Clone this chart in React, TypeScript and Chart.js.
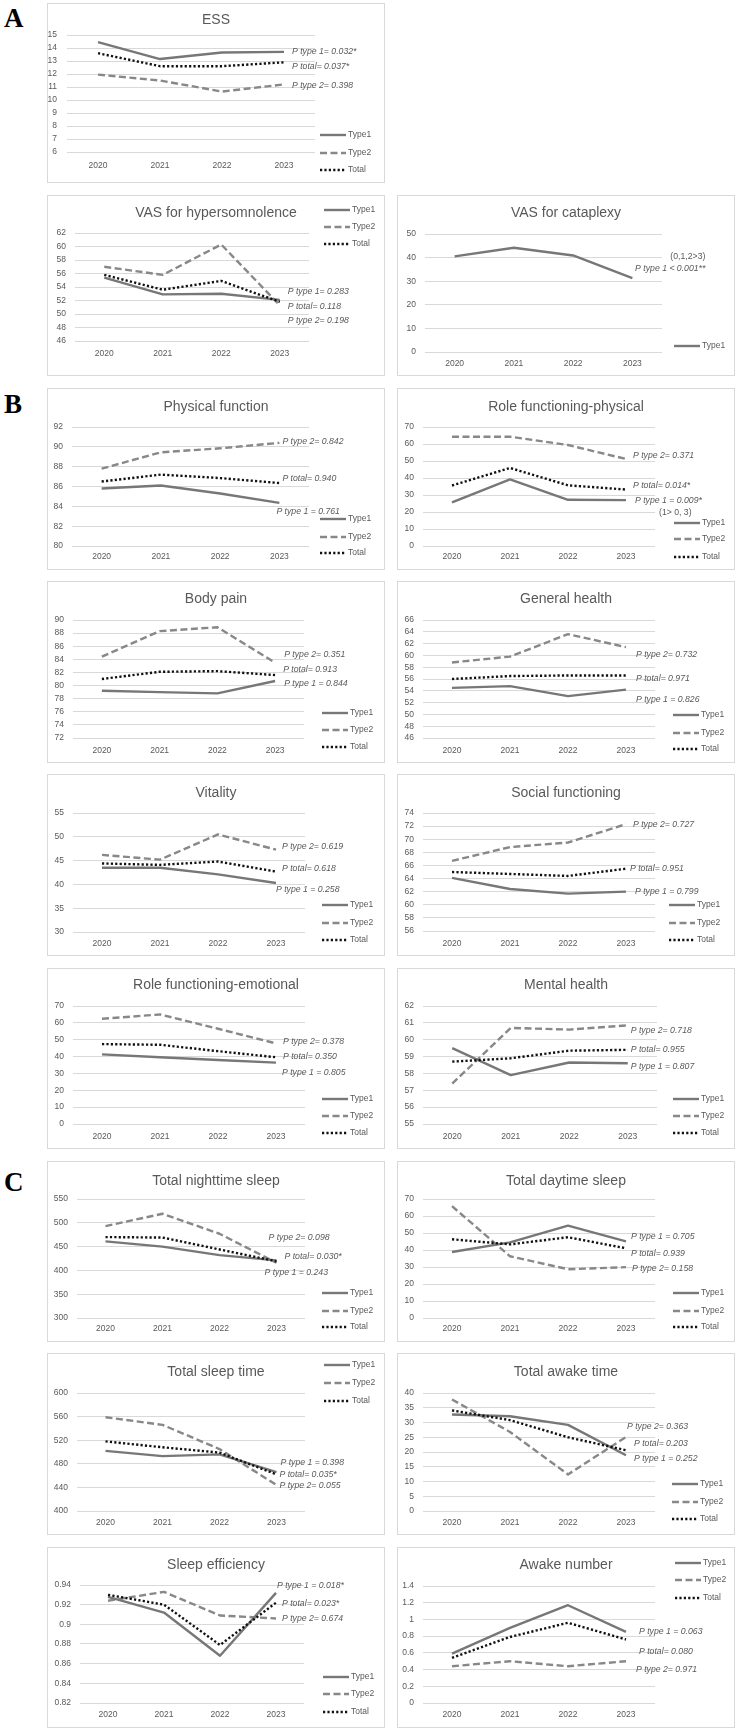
import React, { useEffect, useRef } from 'react';
import { Chart, registerables } from 'chart.js';

Chart.register(...registerables);

// ---------- categories ----------
const years = ['2020', '2021', '2022', '2023'];

// ---------- A ----------
const essType1 = [14.45, 13.15, 13.65, 13.7];
const essType2 = [11.95, 11.5, 10.65, 11.2];
const essTotal = [13.6, 12.6, 12.6, 12.9];
const essTicks = [6, 7, 8, 9, 10, 11, 12, 13, 14, 15];

const hyperType1 = [55.4, 52.9, 53.0, 52.1];
const hyperType2 = [57.0, 55.8, 60.3, 51.3];
const hyperTotal = [55.8, 53.6, 54.9, 51.8];
const hyperTicks = [46, 48, 50, 52, 54, 56, 58, 60, 62];

const catapType1 = [40.5, 44.2, 40.9, 31.3];
const catapTicks = [0, 10, 20, 30, 40, 50];

// ---------- B ----------
const pfType1 = [85.8, 86.1, 85.3, 84.35];
const pfType2 = [87.8, 89.45, 89.85, 90.4];
const pfTotal = [86.5, 87.2, 86.85, 86.35];
const pfTicks = [80, 82, 84, 86, 88, 90, 92];

const rpType1 = [25.6, 39.2, 27.2, 27.0];
const rpType2 = [64.3, 64.3, 59.4, 51.2];
const rpTotal = [35.6, 45.9, 35.7, 33.2];
const rpTicks = [0, 10, 20, 30, 40, 50, 60, 70];

const bpType1 = [79.2, 79.0, 78.8, 80.7];
const bpType2 = [84.4, 88.3, 88.9, 83.5];
const bpTotal = [81.0, 82.1, 82.2, 81.6];
const bpTicks = [72, 74, 76, 78, 80, 82, 84, 86, 88, 90];

const ghType1 = [54.5, 54.8, 53.1, 54.2];
const ghType2 = [58.8, 59.8, 63.6, 61.4];
const ghTotal = [56.0, 56.5, 56.6, 56.6];
const ghTicks = [46, 48, 50, 52, 54, 56, 58, 60, 62, 64, 66];

const vtType1 = [43.5, 43.5, 42.1, 40.3];
const vtType2 = [46.2, 45.2, 50.5, 47.3];
const vtTotal = [44.4, 44.1, 44.8, 42.7];
const vtTicks = [30, 35, 40, 45, 50, 55];

const sfType1 = [64.1, 62.4, 61.7, 62.0];
const sfType2 = [66.7, 68.8, 69.5, 72.3];
const sfTotal = [65.0, 64.7, 64.4, 65.5];
const sfTicks = [56, 58, 60, 62, 64, 66, 68, 70, 72, 74];

const reType1 = [41.3, 39.6, 38.0, 36.4];
const reType2 = [62.4, 65.0, 56.5, 47.8];
const reTotal = [47.4, 47.0, 43.2, 39.6];
const reTicks = [0, 10, 20, 30, 40, 50, 60, 70];

const mhType1 = [59.5, 57.9, 58.65, 58.6];
const mhType2 = [57.4, 60.7, 60.6, 60.85];
const mhTotal = [58.7, 58.9, 59.35, 59.4];
const mhTicks = [55, 56, 57, 58, 59, 60, 61, 62];

// ---------- C ----------
const nsType1 = [461, 450, 432, 421];
const nsType2 = [493, 519, 477, 416];
const nsTotal = [470, 469, 444, 419];
const nsTicks = [300, 350, 400, 450, 500, 550];

const dsType1 = [38.8, 44.5, 54.3, 45.1];
const dsType2 = [65.8, 36.3, 28.7, 29.9];
const dsTotal = [46.3, 43.3, 47.5, 41.0];
const dsTicks = [0, 10, 20, 30, 40, 50, 60, 70];

const tstType1 = [502, 493, 496, 466];
const tstType2 = [559, 546, 505, 444];
const tstTotal = [518, 508, 499, 462];
const tstTicks = [400, 440, 480, 520, 560, 600];

const awType1 = [32.7, 32.1, 29.2, 18.9];
const awType2 = [37.8, 26.8, 12.4, 25.1];
const awTotal = [34.1, 30.8, 25.0, 20.6];
const awTicks = [0, 5, 10, 15, 20, 25, 30, 35, 40];

const seType1 = [0.928, 0.912, 0.868, 0.932];
const seType2 = [0.924, 0.933, 0.909, 0.906];
const seTotal = [0.930, 0.920, 0.879, 0.922];
const seTicks = [0.82, 0.84, 0.86, 0.88, 0.9, 0.92, 0.94];

const anType1 = [0.59, 0.90, 1.17, 0.85];
const anType2 = [0.44, 0.50, 0.44, 0.50];
const anTotal = [0.54, 0.79, 0.96, 0.76];
const anTicks = [0, 0.2, 0.4, 0.6, 0.8, 1, 1.2, 1.4];

// ---------- styles ----------
const FONT = '"Liberation Sans", Arial, sans-serif';
const TEXT = '#595959';
const GRID = '#d9d9d9';
const SMALL = 8.5;

type Key = 'type1' | 'type2' | 'total';
const STYLE: Record<Key, { label: string; color: string; dash: number[]; width: number; order: number }> = {
  type1: { label: 'Type1', color: '#777777', dash: [], width: 2.4, order: 1 },
  type2: { label: 'Type2', color: '#888888', dash: [7, 3.5], width: 2.4, order: 2 },
  total: { label: 'Total', color: '#111111', dash: [2.2, 2.2], width: 2.4, order: 0 },
};

type Note = { text: string; at: number; dx: number; align?: CanvasTextAlign; upright?: boolean };
type Panel = {
  title: string;
  col: 'L' | 'R';
  boxTop: number;
  boxBottom: number;
  plot: [number, number, number, number];
  titleY: number;
  xLabY: number;
  ticks: number[];
  yPad?: number;
  series: { key: Key; data: number[] }[];
  legendX: number;
  legendY: number[];
  notes: Note[];
};

const three = (a: number[], b: number[], c: number[]) => [
  { key: 'type1' as Key, data: a },
  { key: 'type2' as Key, data: b },
  { key: 'total' as Key, data: c },
];

const panels: Panel[] = [
  {
    title: 'ESS', col: 'L', boxTop: 3, boxBottom: 183, plot: [67, 35, 315, 152], titleY: 20, xLabY: 166,
    ticks: essTicks, yPad: 10, series: three(essType1, essType2, essTotal), legendX: 320, legendY: [135, 153, 170],
    notes: [
      { text: 'P type 1= 0.032*', at: 13.7, dx: 8 },
      { text: 'P total= 0.037*', at: 12.6, dx: 8 },
      { text: 'P type 2= 0.398', at: 11.1, dx: 8 },
    ],
  },
  {
    title: 'VAS for hypersomnolence', col: 'L', boxTop: 195, boxBottom: 376, plot: [75, 233, 309, 341], titleY: 213, xLabY: 354,
    ticks: hyperTicks, series: three(hyperType1, hyperType2, hyperTotal), legendX: 324, legendY: [210, 227, 244],
    notes: [
      { text: 'P type 1= 0.283', at: 53.26, dx: 8 },
      { text: 'P total= 0.118', at: 51.04, dx: 8 },
      { text: 'P type 2= 0.198', at: 48.96, dx: 8 },
    ],
  },
  {
    title: 'VAS for cataplexy', col: 'R', boxTop: 195, boxBottom: 376, plot: [425, 234, 662, 352], titleY: 213, xLabY: 364,
    ticks: catapTicks, series: [{ key: 'type1', data: catapType1 }], legendX: 674, legendY: [346],
    notes: [
      { text: '(0,1,2>3)', at: 40.25, dx: 73, align: 'right', upright: true },
      { text: 'P type 1 < 0.001**', at: 35.2, dx: 73, align: 'right' },
    ],
  },
  {
    title: 'Physical function', col: 'L', boxTop: 388, boxBottom: 570, plot: [72, 427, 309, 546], titleY: 407, xLabY: 557,
    ticks: pfTicks, series: three(pfType1, pfType2, pfTotal), legendX: 320, legendY: [519, 537, 553],
    notes: [
      { text: 'P type 2= 0.842', at: 90.49, dx: 3 },
      { text: 'P total= 0.940', at: 86.76, dx: 3 },
      { text: 'P type 1 = 0.761', at: 83.43, dx: -3 },
    ],
  },
  {
    title: 'Role functioning-physical', col: 'R', boxTop: 388, boxBottom: 570, plot: [423, 427, 655, 546], titleY: 407, xLabY: 557,
    ticks: rpTicks, series: three(rpType1, rpType2, rpTotal), legendX: 674, legendY: [523, 539, 557],
    notes: [
      { text: 'P type 2= 0.371', at: 52.9, dx: 7 },
      { text: 'P total= 0.014*', at: 35.3, dx: 7 },
      { text: 'P type 1 = 0.009*', at: 26.5, dx: 9 },
      { text: '(1> 0, 3)', at: 19.4, dx: 33, upright: true },
    ],
  },
  {
    title: 'Body pain', col: 'L', boxTop: 581, boxBottom: 763, plot: [73, 620, 304, 738], titleY: 599, xLabY: 751,
    ticks: bpTicks, series: three(bpType1, bpType2, bpTotal), legendX: 322, legendY: [713, 730, 747],
    notes: [
      { text: 'P type 2= 0.351', at: 84.67, dx: 9 },
      { text: 'P total= 0.913', at: 82.38, dx: 8 },
      { text: 'P type 1 = 0.844', at: 80.24, dx: 9 },
    ],
  },
  {
    title: 'General health', col: 'R', boxTop: 581, boxBottom: 763, plot: [423, 620, 655, 738], titleY: 599, xLabY: 751,
    ticks: ghTicks, series: three(ghType1, ghType2, ghTotal), legendX: 673, legendY: [715, 733, 749],
    notes: [
      { text: 'P type 2= 0.732', at: 60.2, dx: 10 },
      { text: 'P total= 0.971', at: 56.1, dx: 10 },
      { text: 'P type 1 = 0.826', at: 52.5, dx: 10 },
    ],
  },
  {
    title: 'Vitality', col: 'L', boxTop: 774, boxBottom: 956, plot: [73, 813, 305, 932], titleY: 793, xLabY: 944,
    ticks: vtTicks, series: three(vtType1, vtType2, vtTotal), legendX: 322, legendY: [905, 923, 940],
    notes: [
      { text: 'P type 2= 0.619', at: 47.86, dx: 6 },
      { text: 'P total= 0.618', at: 43.24, dx: 6 },
      { text: 'P type 1 = 0.258', at: 38.82, dx: 0 },
    ],
  },
  {
    title: 'Social functioning', col: 'R', boxTop: 774, boxBottom: 956, plot: [423, 813, 655, 931], titleY: 793, xLabY: 944,
    ticks: sfTicks, series: three(sfType1, sfType2, sfTotal), legendX: 669, legendY: [905, 923, 940],
    notes: [
      { text: 'P type 2= 0.727', at: 72.3, dx: 7 },
      { text: 'P total= 0.951', at: 65.5, dx: 4 },
      { text: 'P type 1 = 0.799', at: 61.95, dx: 9 },
    ],
  },
  {
    title: 'Role functioning-emotional', col: 'L', boxTop: 968, boxBottom: 1149, plot: [73, 1006, 305, 1124], titleY: 985, xLabY: 1137,
    ticks: reTicks, series: three(reType1, reType2, reTotal), legendX: 322, legendY: [1099, 1116, 1133],
    notes: [
      { text: 'P type 2= 0.378', at: 48.65, dx: 7 },
      { text: 'P total= 0.350', at: 39.75, dx: 7 },
      { text: 'P type 1 = 0.805', at: 30.26, dx: 6 },
    ],
  },
  {
    title: 'Mental health', col: 'R', boxTop: 968, boxBottom: 1149, plot: [423, 1006, 657, 1124], titleY: 985, xLabY: 1137,
    ticks: mhTicks, series: three(mhType1, mhType2, mhTotal), legendX: 673, legendY: [1099, 1116, 1133],
    notes: [
      { text: 'P type 2= 0.718', at: 60.52, dx: 3 },
      { text: 'P total= 0.955', at: 59.39, dx: 3 },
      { text: 'P type 1 = 0.807', at: 58.38, dx: 3 },
    ],
  },
  {
    title: 'Total nighttime sleep', col: 'L', boxTop: 1161, boxBottom: 1342, plot: [77, 1199, 305, 1318], titleY: 1181, xLabY: 1329,
    ticks: nsTicks, series: three(nsType1, nsType2, nsTotal), legendX: 322, legendY: [1293, 1311, 1327],
    notes: [
      { text: 'P type 2= 0.098', at: 468, dx: -8 },
      { text: 'P total= 0.030*', at: 428, dx: 8 },
      { text: 'P type 1 = 0.243', at: 394.6, dx: -12 },
    ],
  },
  {
    title: 'Total daytime sleep', col: 'R', boxTop: 1161, boxBottom: 1342, plot: [423, 1199, 655, 1318], titleY: 1181, xLabY: 1329,
    ticks: dsTicks, series: three(dsType1, dsType2, dsTotal), legendX: 673, legendY: [1293, 1311, 1327],
    notes: [
      { text: 'P type 1 = 0.705', at: 47.6, dx: 5 },
      { text: 'P total= 0.939', at: 37.6, dx: 5 },
      { text: 'P type 2= 0.158', at: 28.8, dx: 6 },
    ],
  },
  {
    title: 'Total sleep time', col: 'L', boxTop: 1353, boxBottom: 1535, plot: [77, 1393, 305, 1511], titleY: 1372, xLabY: 1523,
    ticks: tstTicks, series: three(tstType1, tstType2, tstTotal), legendX: 324, legendY: [1365, 1383, 1401],
    notes: [
      { text: 'P type 1 = 0.398', at: 481.4, dx: 4 },
      { text: 'P total= 0.035*', at: 461, dx: 3 },
      { text: 'P type 2= 0.055', at: 442.4, dx: 3 },
    ],
  },
  {
    title: 'Total awake time', col: 'R', boxTop: 1353, boxBottom: 1535, plot: [423, 1393, 655, 1511], titleY: 1372, xLabY: 1523,
    ticks: awTicks, series: three(awType1, awType2, awTotal), legendX: 672, legendY: [1484, 1502, 1519],
    notes: [
      { text: 'P type 2= 0.363', at: 28.5, dx: 1 },
      { text: 'P total= 0.203', at: 22.7, dx: 8 },
      { text: 'P type 1 = 0.252', at: 17.6, dx: 8 },
    ],
  },
  {
    title: 'Sleep efficiency', col: 'L', boxTop: 1547, boxBottom: 1728, plot: [80, 1585, 304, 1703], titleY: 1565, xLabY: 1715,
    ticks: seTicks, series: three(seType1, seType2, seTotal), legendX: 323, legendY: [1677, 1694, 1712],
    notes: [
      { text: 'P type 1 = 0.018*', at: 0.939, dx: 1 },
      { text: 'P total= 0.023*', at: 0.9207, dx: 6 },
      { text: 'P type 2= 0.674', at: 0.9054, dx: 6 },
    ],
  },
  {
    title: 'Awake number', col: 'R', boxTop: 1547, boxBottom: 1728, plot: [423, 1586, 655, 1703], titleY: 1565, xLabY: 1715,
    ticks: anTicks, series: three(anType1, anType2, anTotal), legendX: 675, legendY: [1563, 1580, 1598],
    notes: [
      { text: 'P type 1 = 0.063', at: 0.85, dx: 13 },
      { text: 'P total= 0.080', at: 0.61, dx: 13 },
      { text: 'P type 2= 0.971', at: 0.395, dx: 10 },
    ],
  },
];

const COL_X = { L: 47, R: 397 };
const BOX_W = 338;

function fmt(v: number) {
  return String(Number(v.toFixed(3)));
}

function PanelChart({ p }: { p: Panel }) {
  const ref = useRef<HTMLCanvasElement>(null);
  const boxL = COL_X[p.col];
  const H = p.boxBottom - p.boxTop;

  useEffect(() => {
    const canvas = ref.current;
    if (!canvas) return;
    const relL = p.plot[0] - boxL;
    const relR = p.plot[2] - boxL;
    const relT = p.plot[1] - p.boxTop;
    const relB = p.plot[3] - p.boxTop;
    const YW = relL;
    const XH = 20;

    const deco = {
      id: 'deco',
      beforeDraw(chart: any) {
        const { ctx, width, height } = chart;
        ctx.save();
        ctx.fillStyle = '#ffffff';
        ctx.fillRect(0, 0, width, height);
        ctx.strokeStyle = GRID;
        ctx.lineWidth = 1;
        ctx.strokeRect(0.5, 0.5, width - 1, height - 1);
        ctx.restore();
      },
      afterDraw(chart: any) {
        const { ctx } = chart;
        ctx.save();
        ctx.fillStyle = TEXT;
        ctx.font = `14px ${FONT}`;
        ctx.textAlign = 'center';
        ctx.textBaseline = 'middle';
        ctx.fillText(p.title, chart.width / 2, p.titleY - p.boxTop);

        p.series.forEach((s, i) => {
          const st = STYLE[s.key];
          const y = p.legendY[i] - p.boxTop;
          const x0 = p.legendX - boxL;
          ctx.beginPath();
          ctx.setLineDash(st.dash);
          ctx.strokeStyle = st.color;
          ctx.lineWidth = st.width;
          ctx.moveTo(x0, y);
          ctx.lineTo(x0 + 26, y);
          ctx.stroke();
          ctx.setLineDash([]);
          ctx.font = `${SMALL}px ${FONT}`;
          ctx.textAlign = 'left';
          ctx.fillStyle = TEXT;
          ctx.fillText(st.label, x0 + 28, y);
        });

        const xs = chart.scales.x;
        const ys = chart.scales.y;
        const x3 = xs.getPixelForValue(3);
        p.notes.forEach((n) => {
          ctx.font = `${n.upright ? '' : 'italic '}${SMALL + 0.2}px ${FONT}`;
          ctx.textAlign = n.align || 'left';
          ctx.textBaseline = 'middle';
          ctx.fillStyle = TEXT;
          ctx.fillText(n.text, x3 + n.dx, ys.getPixelForValue(n.at));
        });
        ctx.restore();
      },
    };

    const chart = new Chart(canvas, {
      type: 'line',
      data: {
        labels: years,
        datasets: p.series.map((s) => ({
          label: STYLE[s.key].label,
          data: s.data,
          borderColor: STYLE[s.key].color,
          borderWidth: STYLE[s.key].width,
          borderDash: STYLE[s.key].dash,
          borderCapStyle: 'butt' as const,
          borderJoinStyle: 'round' as const,
          pointRadius: 0,
          pointHoverRadius: 0,
          tension: 0,
          fill: false,
          order: STYLE[s.key].order,
        })),
      },
      options: {
        responsive: false,
        animation: false,
        events: [],
        layout: {
          padding: { left: 0, right: BOX_W - relR, top: relT, bottom: H - relB - XH },
        },
        plugins: {
          legend: { display: false },
          title: { display: false },
          tooltip: { enabled: false },
        },
        scales: {
          x: {
            offset: true,
            grid: { display: false, drawTicks: false },
            border: { display: false },
            ticks: {
              color: TEXT,
              font: { family: FONT, size: SMALL },
              padding: p.xLabY - p.plot[3] - SMALL * 0.6,
              maxRotation: 0,
              autoSkip: false,
            },
            afterFit: (s: any) => {
              s.height = XH;
            },
          },
          y: {
            min: p.ticks[0],
            max: p.ticks[p.ticks.length - 1],
            grid: { color: GRID, lineWidth: 1, drawTicks: false },
            border: { display: false },
            ticks: {
              color: TEXT,
              font: { family: FONT, size: SMALL },
              padding: p.yPad ?? 9,
              autoSkip: false,
              callback: (v: any) => fmt(Number(v)),
            },
            afterBuildTicks: (s: any) => {
              s.ticks = p.ticks.map((v) => ({ value: v }));
            },
            afterFit: (s: any) => {
              s.width = YW;
            },
          },
        },
      },
      plugins: [deco],
    });
    return () => chart.destroy();
  }, []);

  return (
    <canvas
      ref={ref}
      width={BOX_W}
      height={H}
      style={{ position: 'absolute', left: boxL, top: p.boxTop, width: BOX_W, height: H }}
    />
  );
}

const letterStyle = (top: number): React.CSSProperties => ({
  position: 'absolute',
  left: 4,
  top,
  fontFamily: '"Liberation Serif", "Times New Roman", serif',
  fontWeight: 'bold',
  fontSize: 27,
  lineHeight: '27px',
  color: '#000',
});

export default function App() {
  return (
    <div style={{ position: 'absolute', left: 0, top: 0, width: 737, height: 1731, background: '#fff' }}>
      <div style={letterStyle(5)}>A</div>
      <div style={letterStyle(391)}>B</div>
      <div style={letterStyle(1169)}>C</div>
      {panels.map((p) => (
        <PanelChart key={p.title} p={p} />
      ))}
    </div>
  );
}
